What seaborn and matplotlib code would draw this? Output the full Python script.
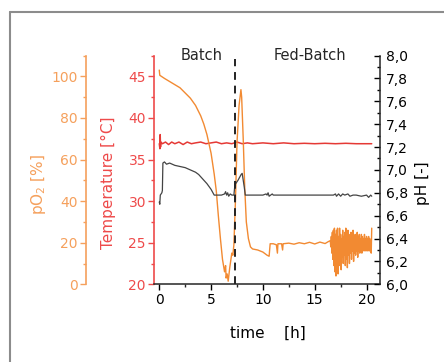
import matplotlib
matplotlib.use("Agg")
import matplotlib.pyplot as plt
from matplotlib.lines import Line2D
from matplotlib.ticker import MultipleLocator
import seaborn as sns

# --------------------------------------------------------------------------- #
# Data
# --------------------------------------------------------------------------- #
PO2_TIME = [0.0, 0.05, 0.2, 0.5, 1.0, 1.5, 2.0, 2.5, 3.0, 3.5, 4.0, 4.3, 4.6,
            5.0, 5.3, 5.5, 5.7, 5.9, 6.1, 6.3, 6.4, 6.45, 6.55, 6.65, 6.8,
            7.0, 7.1, 7.2, 7.35, 7.5, 7.7, 7.88, 7.95, 8.1, 8.25, 8.4, 8.6,
            8.8, 9.0, 9.5, 10.0, 10.4, 10.6, 10.7, 11.0, 11.3, 11.4, 11.45,
            11.8, 11.9, 11.95, 12.5, 13.0, 13.5, 14.0, 14.5, 15.0, 15.5, 16.0,
            16.3,
            16.50, 16.55, 16.60, 16.65, 16.70, 16.75, 16.80, 16.85, 16.90,
            16.95, 17.00, 17.05, 17.10, 17.15, 17.20, 17.25, 17.30, 17.35,
            17.40, 17.45, 17.50, 17.55, 17.60, 17.65, 17.70, 17.75, 17.80,
            17.85, 17.90, 17.95, 18.00, 18.05, 18.10, 18.15, 18.20, 18.25,
            18.30, 18.35, 18.40, 18.45, 18.50, 18.55, 18.60, 18.65, 18.70,
            18.75, 18.80, 18.85, 18.90, 18.95, 19.00, 19.05, 19.10, 19.15,
            19.20, 19.25, 19.30, 19.35, 19.40, 19.45, 19.50, 19.55, 19.60,
            19.65, 19.70, 19.75, 19.80, 19.85, 19.90, 19.95, 20.00, 20.05,
            20.10, 20.15, 20.20, 20.25, 20.30, 20.35, 20.40, 20.45, 20.50]
PO2_VALUE = [103, 100.5, 100, 99, 97.5, 96, 94.5, 92, 89.5, 86, 81, 77, 72,
             63, 53, 45, 33, 22, 12, 6, 9, 3, 5, 1.5, 8,
             15, 14, 19, 40, 68, 86, 93.6, 90, 70, 46, 30, 22,
             18, 17, 16.5, 15.5, 14, 13.5, 19.5, 19.5, 19, 15, 19.5,
             19.5, 16.5, 19.5, 19.8, 19.3, 20, 19.5, 20.2, 19.4, 20.3, 19.6,
             20.5,
             21, 18, 23, 15, 25, 12, 26, 9, 27,
             6, 24, 4, 26, 8, 27, 5, 23, 9,
             27, 11, 24, 7, 22, 13, 26, 10, 23,
             14, 25, 9, 27, 12, 22, 8, 26, 14,
             24, 10, 23, 15, 25, 12, 22, 16, 26,
             11, 23, 15, 24, 14, 22, 16, 25, 13,
             23, 16, 24, 15, 22, 17, 24, 15, 23,
             16, 22, 17, 24, 16, 22, 17, 23, 16,
             22, 17, 23, 16, 22, 18, 21, 15, 27]

TEMP_TIME = [0.0, 0.06, 0.09, 0.12, 0.16, 0.3, 0.6, 0.9, 1.2, 1.5, 1.9, 2.3,
             2.7, 3.1, 3.5, 4.0, 4.5, 5.0, 5.5, 6.0, 6.5, 7.0, 7.5, 8.0, 8.5,
             9.0, 10.0, 11.0, 12.0, 13.0, 14.0, 15.0, 16.0, 17.0, 18.0, 19.0,
             20.0, 20.5]
TEMP_VALUE = [36.9, 36.3, 38.0, 36.5, 37.1, 36.9, 37.1, 36.8, 37.1, 36.9,
              37.1, 36.8, 37.1, 36.9, 37.0, 37.1, 36.9, 37.0, 37.1, 36.9,
              37.0, 36.9, 37.1, 36.9, 37.0, 36.9, 37.0, 36.9, 37.0, 36.9,
              36.95, 36.9, 36.95, 36.9, 36.95, 36.9, 36.9, 36.9]

PH_TIME = [0.0, 0.05, 0.1, 0.25, 0.3, 0.35, 0.5, 0.7, 1.0, 1.5, 2.0, 2.5,
           3.0, 3.5, 3.8, 4.2, 4.6, 5.0, 5.3, 5.6, 6.0, 6.3, 6.4, 6.5, 6.6,
           6.7, 6.85, 7.0, 7.2, 7.3, 7.6, 7.9, 8.0, 8.2, 8.3, 9.0, 10.0,
           10.3, 10.4, 10.5, 10.6, 10.9, 11.0, 12.0, 14.0, 16.0, 16.8, 17.0,
           17.1, 17.3, 17.5, 17.7, 17.9, 18.2, 18.4, 18.7, 19.0, 19.5, 20.0,
           20.2, 20.4, 20.5]
PH_VALUE = [6.72, 6.70, 6.78, 6.80, 6.82, 7.06, 7.07, 7.05, 7.06, 7.04,
            7.03, 7.02, 7.00, 6.98, 6.96, 6.92, 6.88, 6.83, 6.78, 6.78,
            6.78, 6.79, 6.81, 6.78, 6.80, 6.77, 6.79, 6.78, 6.78, 6.87,
            6.91, 6.96, 6.97, 6.85, 6.78, 6.78, 6.78, 6.79, 6.78, 6.80,
            6.77, 6.79, 6.78, 6.78, 6.78, 6.78, 6.78, 6.79, 6.77, 6.79,
            6.77, 6.79, 6.78, 6.79, 6.77, 6.78, 6.78, 6.77, 6.78, 6.76,
            6.78, 6.77]

PHASE_SWITCH = 7.35   # h, Batch -> Fed-Batch

# --------------------------------------------------------------------------- #
# Style
# --------------------------------------------------------------------------- #
PO2_AXIS = "#f5a05c"
PO2_LINE = "#f28a32"
TEMP_AXIS = "#ee4a4a"
TEMP_LINE = "#e53935"
PH_LINE = "#444444"

sns.set_style("ticks")
plt.rcParams["font.family"] = ["DejaVu Sans"]
plt.rcParams["font.size"] = 10


def _style_y(ax, color, major, minor, direction="out"):
    ax.yaxis.set_major_locator(MultipleLocator(major))
    ax.yaxis.set_minor_locator(MultipleLocator(minor))
    ax.tick_params(axis="y", which="major", colors=color, labelsize=10,
                   length=4, width=1, direction=direction, pad=2)
    ax.tick_params(axis="y", which="minor", colors=color,
                   length=2.5, width=1, direction=direction)


fig = plt.figure(figsize=(4.44, 3.62), dpi=100)
ax = fig.add_axes([0.3475, 0.2146, 0.5084, 0.632])   # temperature axis
ax_po2 = ax.twinx()
ax_ph = ax.twinx()

# temperature (left spine)
sns.lineplot(x=TEMP_TIME, y=TEMP_VALUE, ax=ax, color=TEMP_LINE, lw=1.1,
             estimator=None, sort=False)
ax.set_xlim(-0.48, 21.3)
ax.set_ylim(20, 47.5)
_style_y(ax, TEMP_AXIS, 5, 2.5)
ax.xaxis.set_major_locator(MultipleLocator(5))
ax.xaxis.set_minor_locator(MultipleLocator(2.5))
ax.tick_params(axis="x", which="major", colors="black", labelsize=10,
               length=4, width=1, pad=2)
ax.tick_params(axis="x", which="minor", length=2.5, width=1)
for s in ("top", "right"):
    ax.spines[s].set_visible(False)
ax.spines["left"].set_color(TEMP_AXIS)
ax.spines["left"].set_linewidth(1.2)
ax.spines["bottom"].set_linewidth(1.1)
ax.set_xlabel("")
ax.set_ylabel("")

# pO2 (offset left spine)
sns.lineplot(x=PO2_TIME, y=PO2_VALUE, ax=ax_po2, color=PO2_LINE, lw=1.0,
             estimator=None, sort=False)
ax_po2.set_ylim(0, 110)
ax_po2.yaxis.set_label_position("left")
ax_po2.yaxis.set_ticks_position("left")
ax_po2.spines["left"].set_position(("axes", -0.3026))
ax_po2.spines["left"].set_color(PO2_AXIS)
ax_po2.spines["left"].set_linewidth(1.2)
ax_po2.spines["left"].set_bounds(0, 110)
for s in ("top", "right", "bottom"):
    ax_po2.spines[s].set_visible(False)
_style_y(ax_po2, PO2_AXIS, 20, 10)
ax_po2.set_ylabel("")

# pH (right spine)
sns.lineplot(x=PH_TIME, y=PH_VALUE, ax=ax_ph, color=PH_LINE, lw=0.9,
             estimator=None, sort=False)
ax_ph.set_ylim(6, 8)
for s in ("top", "left", "bottom"):
    ax_ph.spines[s].set_visible(False)
ax_ph.spines["right"].set_linewidth(1.1)
_style_y(ax_ph, "black", 0.2, 0.1, direction="in")
ax_ph.tick_params(axis="y", which="major", pad=4)
ax_ph.yaxis.set_major_formatter(lambda v, _: f"{v:.1f}".replace(".", ","))
ax_ph.set_ylabel("")

# phase separator + phase names
ax_ph.axvline(PHASE_SWITCH, ymin=0, ymax=0.985, color="#222222", lw=1.4,
              ls=(0, (4, 3)))
ax.text(0.211, 1.0, "Batch", transform=ax.transAxes, ha="center",
        va="center", fontsize=10.5)
ax.text(0.69, 1.0, "Fed-Batch", transform=ax.transAxes, ha="center",
        va="center", fontsize=10.5)

# axis titles
fig.text(38 / 444, 1 - 184 / 362, "pO$_2$ [%]", rotation=90, ha="center",
         va="center", color=PO2_AXIS, fontsize=11)
fig.text(108 / 444, 1 - 183 / 362, "Temperature [°C]", rotation=90,
         ha="center", va="center", color=TEMP_AXIS, fontsize=11)
fig.text(422 / 444, 1 - 183 / 362, "pH [-]", rotation=90, ha="center",
         va="center", color="black", fontsize=11)
fig.text(268 / 444, 1 - 333 / 362, "time    [h]", ha="center", va="center",
         color="black", fontsize=11)

# grey frame (top and left edge)
x0, y0 = 9.5 / 444, 1 - 11.5 / 362
fig.add_artist(Line2D([x0, x0], [0, y0], transform=fig.transFigure,
                      color="#8c8c8c", lw=1.5))
fig.add_artist(Line2D([x0, 1], [y0, y0], transform=fig.transFigure,
                      color="#8c8c8c", lw=1.5))

fig.savefig("out.png", dpi=100)
